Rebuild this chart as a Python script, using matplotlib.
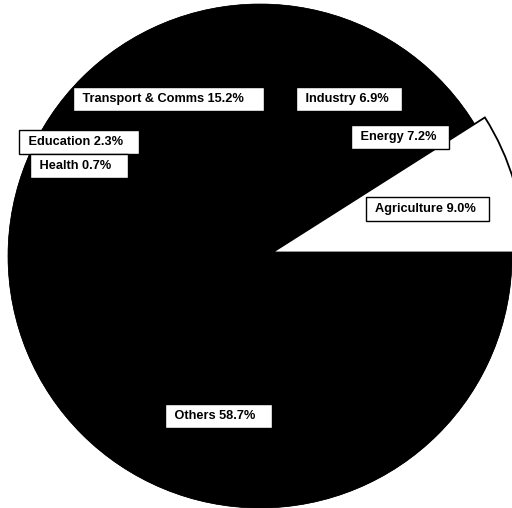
import matplotlib
matplotlib.use("Agg")
import matplotlib.pyplot as plt
from matplotlib.patches import Circle

# Data (counter-clockwise from 3 o'clock)
sectors = ["Agriculture", "Energy", "Industry", "Transport & Comms",
           "Education", "Health", "Others"]
shares = [9.0, 7.2, 6.9, 15.2, 2.3, 0.7, 58.7]
colors = ["white", "black", "black", "black", "black", "black", "black"]
explode = [0.05, 0, 0, 0, 0, 0, 0]

# Label box layout (left text start x, centre y) in figure pixels from top-left
label_px = {
    "Agriculture": (372, 209),
    "Energy": (357, 137),
    "Industry": (302, 99),
    "Transport & Comms": (79, 99),
    "Education": (25, 142),
    "Health": (36, 166),
    "Others": (171, 416),
}
box_extra = {
    "Agriculture": "  ",
    "Energy": "  ",
    "Industry": "  ",
    "Transport & Comms": "    ",
    "Education": "   ",
    "Health": "   ",
    "Others": "   ",
}

W, H = 512, 508
fig = plt.figure(figsize=(W / 100, H / 100), dpi=100)
ax = fig.add_axes([0, 0, 1, 1])
ax.set_axis_off()

# black disc behind the pie (background of the black sectors)
ax.add_patch(Circle((0, 0), 1.0, facecolor="black", edgecolor="black",
                    linewidth=0.5, zorder=0))

wedges, _ = ax.pie(shares, colors=colors, startangle=0, counterclock=True,
                   explode=explode, radius=1.0,
                   wedgeprops=dict(edgecolor="black", linewidth=1.3))
for w, c in zip(wedges, colors):
    if c == "black":
        w.set_linewidth(0)
    else:
        w.set_zorder(3)

cx, cy, r = 260, 256, 252
ax.set_xlim(-cx / r, (W - cx) / r)
ax.set_ylim(-(H - cy) / r, cy / r)
ax.set_aspect("auto")

for name, val in zip(sectors, shares):
    px, py = label_px[name]
    ax.text(px / W, 1 - py / H, f" {name} {val:.1f}%" + box_extra[name],
            transform=fig.transFigure, ha="left", va="center",
            fontsize=9.2, fontweight="bold", family="Liberation Sans",
            color="black", zorder=5,
            bbox=dict(boxstyle="square,pad=0.45", facecolor="white",
                      edgecolor="black", linewidth=1.0))

fig.savefig("out.png", dpi=100, facecolor="white")
